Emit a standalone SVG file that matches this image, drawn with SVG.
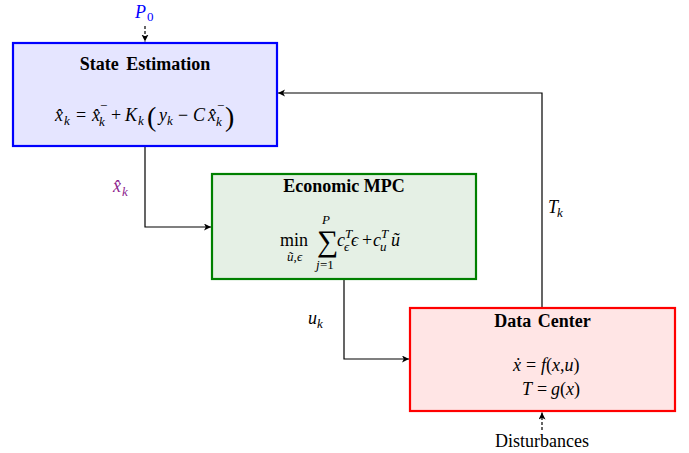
<svg xmlns="http://www.w3.org/2000/svg" width="689" height="453" viewBox="0 0 689 453">
<style>
text{font-family:"Liberation Serif","DejaVu Serif",serif;fill:#000}
.t{font-size:18px;font-weight:bold;text-anchor:middle}
.m{font-size:18px}
.i{font-style:italic}
.s{font-size:13px}
.ln{fill:none;stroke:#000;stroke-width:1.2}
.dash{fill:none;stroke:#000;stroke-width:1.2;stroke-dasharray:3 2}
</style>
<defs>
<marker id="ah" markerUnits="userSpaceOnUse" markerWidth="9" markerHeight="8" refX="7" refY="3.5" orient="auto">
<path d="M0,0 L7,3.5 L0,7 L1.8,3.5 z" fill="#000"/>
</marker>
</defs>

<g id="connectors">
<path class="ln" d="M145,147 V227 H211" marker-end="url(#ah)"/>
<path class="ln" d="M344,280 V359 H409" marker-end="url(#ah)"/>
<path class="ln" d="M542,307 V93 H278" marker-end="url(#ah)"/>
<path class="dash" d="M145,26 V41.5" marker-end="url(#ah)"/>
<path class="dash" d="M542,430 V412.5" marker-end="url(#ah)"/>
</g>

<g id="state-estimation">
<rect x="13" y="43" width="264" height="103" fill="#e5e5ff" stroke="#0000ff" stroke-width="2.2"/>
<text class="t" x="145" y="70" word-spacing="3">State Estimation</text>
<text class="m"><tspan class="i" x="55" y="121">x&#x302;</tspan><tspan class="s i" x="64" y="125">k</tspan><tspan x="76" y="121">=</tspan><tspan class="i" x="92" y="121">x&#x302;</tspan><tspan class="s" x="100" y="110">−</tspan><tspan class="s i" x="99" y="126">k</tspan><tspan x="111" y="121">+</tspan><tspan class="i" x="125" y="121">K</tspan><tspan class="s i" x="138" y="125">k</tspan><tspan style="font-size:28px" x="147" y="126">(</tspan><tspan class="i" x="159" y="121">y</tspan><tspan class="s i" x="167" y="125">k</tspan><tspan x="178" y="121">−</tspan><tspan class="i" x="193" y="121">C</tspan><tspan class="i" x="208" y="121">x&#x302;</tspan><tspan class="s" x="217" y="110">−</tspan><tspan class="s i" x="216" y="126">k</tspan><tspan style="font-size:28px" x="225" y="126">)</tspan></text>
</g>

<g id="economic-mpc">
<rect x="212" y="174" width="264" height="105" fill="#e5f0e5" stroke="#008000" stroke-width="2.2"/>
<text class="t" x="344" y="192">Economic MPC</text>
<text class="m"><tspan x="280" y="246">min</tspan><tspan class="s i" x="287" y="261">u&#x303;</tspan><tspan class="s" x="293.5" y="261">,</tspan><tspan class="s i" x="297" y="261">ϵ</tspan><tspan style="font-size:30px" x="317" y="251">∑</tspan><tspan class="s i" x="322" y="224">P</tspan><tspan class="s i" x="316" y="269">j</tspan><tspan class="s" x="320" y="269">=1</tspan><tspan class="i" x="337" y="246">c</tspan><tspan class="s i" x="345" y="238">T</tspan><tspan class="s i" x="344" y="251">ϵ</tspan><tspan class="i" x="351" y="246">ϵ</tspan><tspan x="362" y="246">+</tspan><tspan class="i" x="373" y="246">c</tspan><tspan class="s i" x="381" y="238">T</tspan><tspan class="s i" x="380" y="251">u</tspan><tspan class="i" x="391" y="246">u&#x303;</tspan></text>
</g>

<g id="data-center">
<rect x="410" y="308" width="265" height="103" fill="#ffe5e5" stroke="#ff0000" stroke-width="2.2"/>
<text class="t" x="542.5" y="327" word-spacing="2">Data Center</text>
<text class="m"><tspan class="i" x="513" y="371">x&#x307;</tspan><tspan x="526" y="371">=</tspan><tspan class="i" x="541" y="371">f</tspan><tspan>(</tspan><tspan class="i">x</tspan><tspan>,</tspan><tspan class="i">u</tspan><tspan>)</tspan></text>
<text class="m"><tspan class="i" x="522" y="395">T</tspan><tspan x="537" y="395">=</tspan><tspan class="i" x="551" y="395">g</tspan><tspan>(</tspan><tspan class="i">x</tspan><tspan>)</tspan></text>
</g>

<g id="p0-input">
<text class="m" style="fill:#0000ff"><tspan class="i" x="135" y="18">P</tspan><tspan class="s" x="147" y="21">0</tspan></text>
</g>

<g id="disturbances">
<text class="m" x="542" y="447" text-anchor="middle">Disturbances</text>
</g>

<g id="labels">
<text class="m" style="fill:#8e1e8e"><tspan class="i" x="113" y="192">x&#x302;</tspan><tspan class="s i" x="122" y="196">k</tspan></text>
<text class="m"><tspan class="i" x="308" y="324">u</tspan><tspan class="s i" x="317" y="328">k</tspan></text>
<text class="m"><tspan class="i" x="548" y="213">T</tspan><tspan class="s i" x="557" y="217">k</tspan></text>
</g>
</svg>
